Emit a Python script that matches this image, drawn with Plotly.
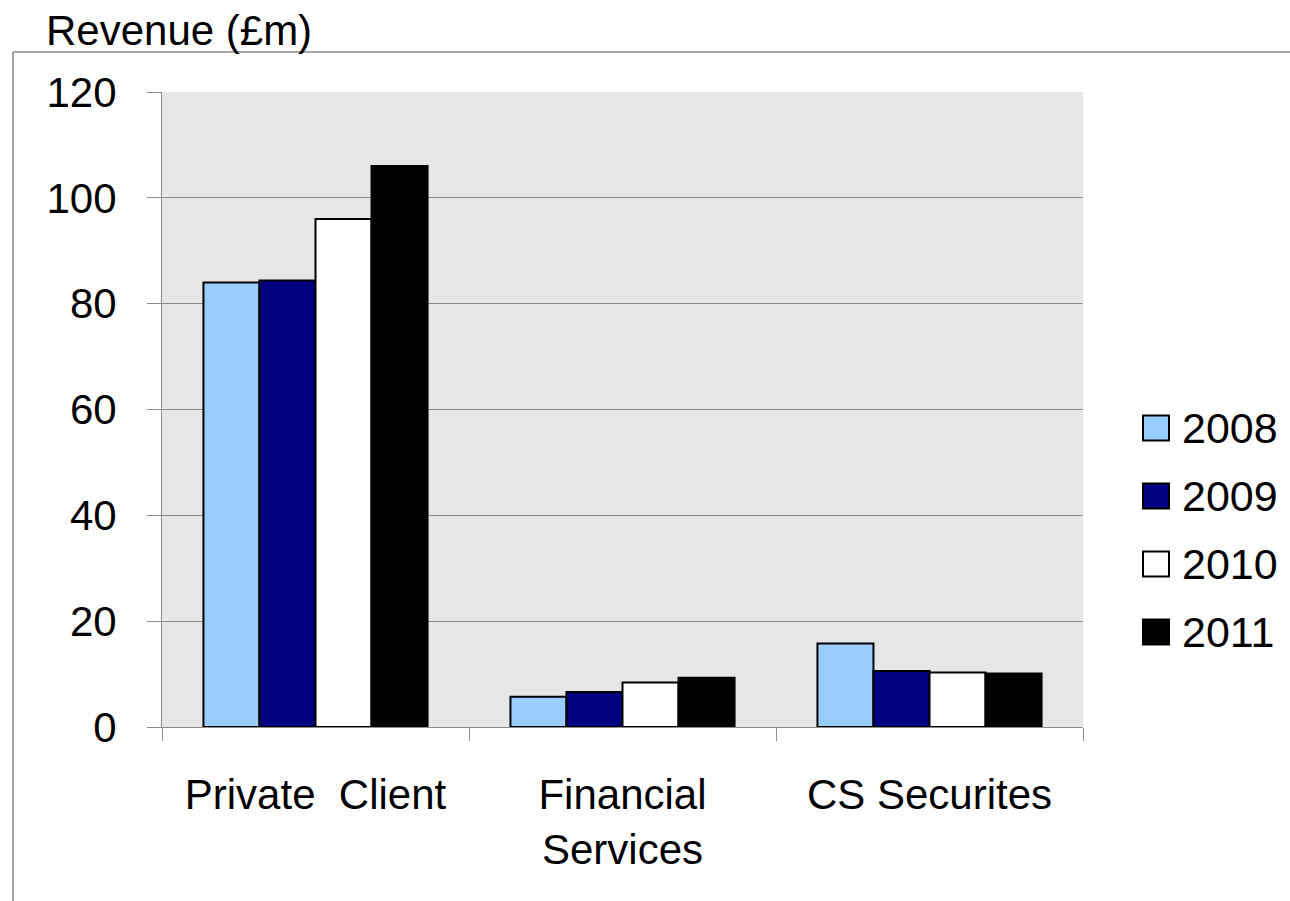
import plotly.graph_objects as go

# Business segments and yearly revenue (£m)
categories = ["Private\u00a0 Client", "Financial<br>Services", "CS Securites"]
years = ["2008", "2009", "2010", "2011"]
rev_2008 = [84.0, 5.7, 15.8]
rev_2009 = [84.4, 6.6, 10.6]
rev_2010 = [96.0, 8.4, 10.3]
rev_2011 = [106.0, 9.3, 10.1]
y_ticks = [0, 20, 40, 60, 80, 100, 120]

series = [rev_2008, rev_2009, rev_2010, rev_2011]
colors = ["#99CCFF", "#000080", "#FFFFFF", "#000000"]

FONT = "Liberation Sans, Arial, sans-serif"
GRID = "#8C8C8C"

W, H = 1290, 901
L, R, T, B = 162, 207, 92, 174
PW, PH = W - L - R, H - T - B


def px(x):
    return (x - L) / PW


def py(y):
    return (H - B - y) / PH


fig = go.Figure()
for name, vals, col in zip(years, series, colors):
    fig.add_trace(go.Bar(
        name=name, x=categories, y=vals,
        marker=dict(color=col, line=dict(color="#000000", width=2)),
        showlegend=False,
    ))

shapes = [
    # outer frame (top and left edges)
    dict(type="line", xref="paper", yref="paper", x0=px(13), x1=px(1292),
         y0=py(52), y1=py(52), line=dict(color="#888888", width=1.5)),
    dict(type="line", xref="paper", yref="paper", x0=px(13), x1=px(13),
         y0=py(52), y1=py(903), line=dict(color="#888888", width=1.5)),
]
annotations = [
    dict(text="Revenue (£m)", xref="paper", yref="paper", x=px(44), y=py(31),
         xanchor="left", yanchor="middle", showarrow=False,
         font=dict(family=FONT, size=42, color="#000000")),
]

# legend: swatch + year label per series
for i, (name, col) in enumerate(zip(years, colors)):
    cy = 428 + 68 * i
    shapes.append(dict(type="rect", xref="paper", yref="paper",
                       x0=px(1143), x1=px(1169), y0=py(cy + 12.5), y1=py(cy - 12.5),
                       fillcolor=col, line=dict(color="#000000", width=2)))
    annotations.append(dict(text=name, xref="paper", yref="paper",
                            x=px(1180), y=py(cy), xanchor="left", yanchor="middle",
                            showarrow=False,
                            font=dict(family=FONT, size=43, color="#000000")))

fig.update_layout(
    width=W, height=H, autosize=False,
    margin=dict(l=L, r=R, t=T, b=B, pad=0),
    paper_bgcolor="#FFFFFF", plot_bgcolor="#E6E6E6",
    barmode="group", bargap=0.27, bargroupgap=0,
    font=dict(family=FONT, size=42, color="#000000"),
    shapes=shapes, annotations=annotations,
    xaxis=dict(
        showline=True, linecolor=GRID, linewidth=1,
        ticks="outside", tickson="boundaries", ticklen=13, tickcolor=GRID, tickwidth=1,
        showgrid=False, tickfont=dict(family=FONT, size=42, color="#000000"),
        ticklabelstandoff=31,
    ),
    yaxis=dict(
        range=[0, 120], tickvals=y_ticks, ticktext=[str(v) for v in y_ticks],
        showline=True, linecolor=GRID, linewidth=1,
        ticks="outside", ticklen=14, tickcolor=GRID, tickwidth=1,
        showgrid=True, gridcolor=GRID, gridwidth=1, zeroline=False,
        tickfont=dict(family=FONT, size=42, color="#000000"),
        ticklabelstandoff=22,
    ),
)

fig.write_html("out.html")
